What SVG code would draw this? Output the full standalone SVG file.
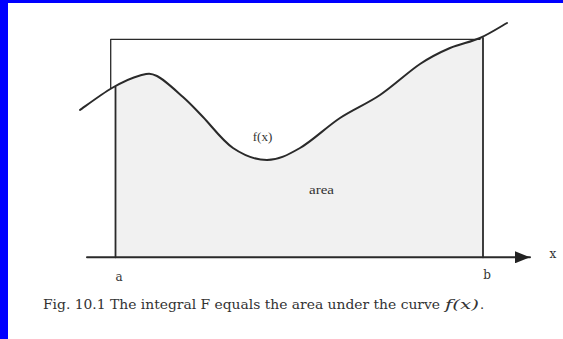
<svg xmlns="http://www.w3.org/2000/svg" width="563" height="339" viewBox="0 0 563 339">
<style>
.ln{fill:none;stroke:#2a2a2a;stroke-linecap:round;stroke-linejoin:round}
.cm{font-family:"DejaVu Serif","Liberation Serif",serif;fill:#333}
.tm{font-family:"Liberation Serif","Times New Roman",serif;fill:#333}
</style>
<defs>
<clipPath id="band"><rect x="115.5" y="0" width="367.5" height="257.5"/></clipPath>
<marker id="arr" viewBox="0 0 15 12" refX="15" refY="6" markerWidth="15" markerHeight="12" markerUnits="userSpaceOnUse" orient="auto"><path d="M0,0 L15,6 L0,12 Z" fill="#222"/></marker>
</defs>
<rect x="0" y="0" width="563" height="339" fill="#ffffff"/>
<rect x="0" y="0" width="8" height="339" fill="#0000ff"/>
<rect x="0" y="0" width="563" height="3" fill="#0000ff"/>
<g id="area-fill">
<path clip-path="url(#band)" fill="#f1f1f1" d="M80,110 C85.3,106.3 102,93.75 112,88 C122,82.25 132.5,77.5 140,75.5 C147.5,73.5 149.8,72.4 157,76 C164.2,79.6 175.3,90.2 183,97 C190.7,103.8 194.7,108.5 203,117 C211.3,125.5 222.3,140.8 233,148 C243.7,155.2 255.8,160 267,160 C278.2,160 287.8,155 300,148 C312.2,141 326.7,126.8 340,118 C353.3,109.2 366.7,104 380,95 C393.3,86 408.3,71.8 420,64 C431.7,56.2 440,52.3 450,48 C460,43.7 470.5,42.2 480,38 C489.5,33.8 502.5,25.5 507,23 L507,257.5 L80,257.5 Z"/>
</g>
<g id="connectors">
<path class="ln" stroke-width="1.3" d="M110.7,88 V39.3 H480"/>
<path class="ln" stroke-width="1.8" d="M115.5,87 V257.3"/>
<path class="ln" stroke-width="1.8" d="M483,38 V257.3"/>
<path class="ln" stroke-width="2" d="M87,257.3 H530" marker-end="url(#arr)"/>
</g>
<g id="curve">
<path class="ln" stroke-width="2" d="M80,110 C85.3,106.3 102,93.75 112,88 C122,82.25 132.5,77.5 140,75.5 C147.5,73.5 149.8,72.4 157,76 C164.2,79.6 175.3,90.2 183,97 C190.7,103.8 194.7,108.5 203,117 C211.3,125.5 222.3,140.8 233,148 C243.7,155.2 255.8,160 267,160 C278.2,160 287.8,155 300,148 C312.2,141 326.7,126.8 340,118 C353.3,109.2 366.7,104 380,95 C393.3,86 408.3,71.8 420,64 C431.7,56.2 440,52.3 450,48 C460,43.7 470.5,42.2 480,38 C489.5,33.8 502.5,25.5 507,23"/>
</g>
<g id="labels">
<text class="tm" x="262.5" y="141" font-size="13" text-anchor="middle">f(x)</text>
<text class="tm" x="321.5" y="194" font-size="12" text-anchor="middle" textLength="25" lengthAdjust="spacingAndGlyphs">area</text>
<text class="cm" x="119" y="281" font-size="12" text-anchor="middle">a</text>
<text class="cm" x="487" y="279" font-size="12" text-anchor="middle">b</text>
<text class="cm" x="553" y="258" font-size="12" text-anchor="middle">x</text>
</g>
<g id="caption">
<text class="cm" x="43" y="309" font-size="13" textLength="397" lengthAdjust="spacingAndGlyphs">Fig. 10.1 The integral F equals the area under the curve</text>
<text class="cm" x="445" y="309" font-size="13" font-style="italic" textLength="34" lengthAdjust="spacingAndGlyphs">f(x)</text>
<text class="cm" x="480" y="309" font-size="13">.</text>
</g>
</svg>
